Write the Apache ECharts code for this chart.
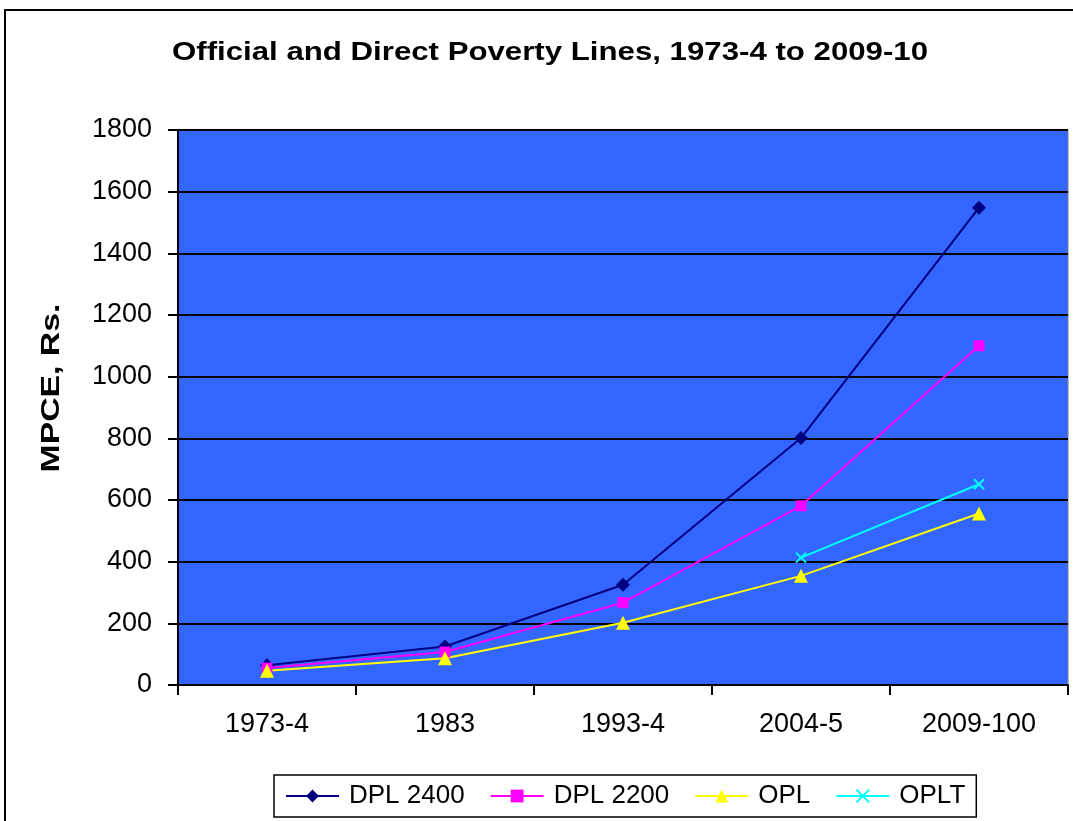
<!DOCTYPE html>
<html>
<head>
<meta charset="utf-8">
<script src="https://cdn.jsdelivr.net/npm/echarts@6/dist/echarts.min.js"></script>
<style>
html,body{margin:0;padding:0;background:#fff;}
#chart{width:1073px;height:821px;}
</style>
</head>
<body>
<div id="chart"></div>
<script>
const categories = ['1973-4', '1983', '1993-4', '2004-5', '2009-100'];
const dpl2400 = [64, 125, 325, 801, 1548];
const dpl2200 = [55, 107, 267, 581, 1100];
const opl = [46, 87, 202, 354, 556];
const oplt = [null, null, null, 413, 651];
const yTicks = { min: 0, max: 1800, interval: 200 };

const FONT = "'Liberation Sans', Arial, sans-serif";
const chart = echarts.init(document.getElementById('chart'));

const crossPath = 'path://M0,0 L10,10 M10,0 L0,10';

chart.setOption({
  animation: false,
  backgroundColor: '#ffffff',
  textStyle: { fontFamily: FONT },
  graphic: [
    { type: 'rect', z: -10, silent: true,
      shape: { x: 5, y: 10, width: 1200, height: 900 },
      style: { fill: 'none', stroke: '#000', lineWidth: 2 } },
    { type: 'text', x: 550, y: 53, scaleX: 1.2,
      style: { text: 'Official and Direct Poverty Lines, 1973-4 to 2009-10',
        font: "bold 26px 'Liberation Sans', Arial, sans-serif",
        fill: '#000', align: 'center', verticalAlign: 'middle' } },
    { type: 'text', x: 52, y: 388, rotation: Math.PI / 2, scaleX: 1.35,
      style: { text: 'MPCE, Rs.',
        font: "bold 25px 'Liberation Sans', Arial, sans-serif",
        fill: '#000', align: 'center', verticalAlign: 'middle' } }
  ],
  grid: {
    left: 178, right: 5, top: 130, bottom: 136,
    show: true, backgroundColor: '#3366FF', borderColor: '#808080', borderWidth: 1,
    containLabel: false
  },
  legend: {
    left: 274, top: 775,
    padding: [6, 11, 6, 11],
    itemGap: 25, itemWidth: 53, itemHeight: 16,
    borderColor: '#000', borderWidth: 1.5, backgroundColor: '#fff',
    textStyle: { fontSize: 26, color: '#000', fontFamily: FONT, lineHeight: 30, padding: [0, 0, 0, 5] },
    data: ['DPL 2400', 'DPL 2200', 'OPL', 'OPLT']
  },
  xAxis: {
    type: 'category', data: categories, boundaryGap: true,
    axisLine: { lineStyle: { color: '#000', width: 2 } },
    axisTick: { show: true, length: 10, alignWithLabel: false, lineStyle: { color: '#000', width: 2 } },
    axisLabel: { fontSize: 27, color: '#000', margin: 26, fontFamily: FONT },
    splitLine: { show: false }
  },
  yAxis: {
    type: 'value', min: yTicks.min, max: yTicks.max, interval: yTicks.interval,
    axisLine: { show: true, lineStyle: { color: '#000', width: 2 } },
    axisTick: { show: true, length: 10, lineStyle: { color: '#000', width: 2 } },
    axisLabel: { fontSize: 27, color: '#000', margin: 26, fontFamily: FONT,
      formatter: function (v) { return String(v); } },
    splitLine: { show: true, lineStyle: { color: '#000', width: 2 } }
  },
  series: [
    { name: 'DPL 2400', type: 'line', data: dpl2400, color: '#000080',
      symbol: 'diamond', symbolSize: 14, showAllSymbol: true,
      lineStyle: { width: 2, color: '#000080' }, itemStyle: { color: '#000080' } },
    { name: 'DPL 2200', type: 'line', data: dpl2200, color: '#FF00FF',
      symbol: 'rect', symbolSize: 11,
      lineStyle: { width: 2, color: '#FF00FF' }, itemStyle: { color: '#FF00FF' } },
    { name: 'OPL', type: 'line', data: opl, color: '#FFFF00',
      symbol: 'triangle', symbolSize: 14,
      lineStyle: { width: 2, color: '#FFFF00' }, itemStyle: { color: '#FFFF00' } },
    { name: 'OPLT', type: 'line', data: oplt, color: '#00FFFF',
      symbol: crossPath, symbolSize: 10,
      lineStyle: { width: 2, color: '#00FFFF' },
      itemStyle: { color: '#00FFFF', borderColor: '#00FFFF', borderWidth: 2 } }
  ]
});
</script>
</body>
</html>
